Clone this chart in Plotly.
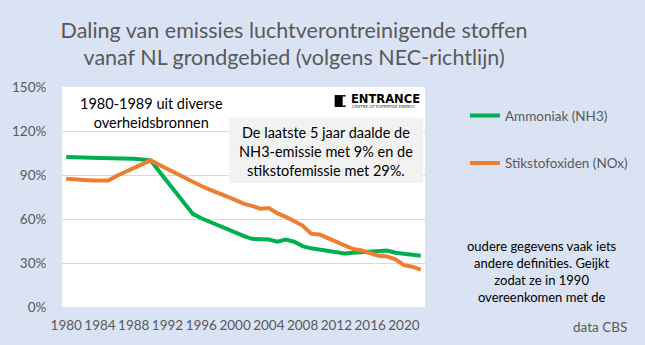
import plotly.graph_objects as go

years = list(range(1980, 2023))
nh3 = [102.3, 102.3, 102.2, 101.8, 101.6, 101.6, 101.5, 101.2, 101.0, 100.5,
       100.0, 92.5, 85.0, 78.0, 70.5, 63.5, 60.5, 58.0, 55.5, 53.5,
       51.0, 48.5, 46.5, 46.0, 46.0, 44.5, 46.0, 44.5, 41.5, 40.0,
       39.0, 38.0, 37.0, 36.5, 37.0, 37.5, 38.0, 38.5, 38.5, 37.0,
       36.5, 36.0, 35.0]
nox = [87.5, 87.0, 86.8, 86.3, 86.2, 86.3, 89.5, 92.3, 95.0, 97.5,
       100.0, 97.0, 94.0, 91.0, 88.0, 85.0, 82.5, 80.0, 78.0, 75.5,
       73.0, 70.5, 69.0, 67.0, 67.5, 64.0, 61.5, 58.5, 55.5, 50.0,
       49.5, 47.0, 44.5, 42.5, 39.5, 38.5, 37.0, 35.0, 34.5, 32.5,
       28.5, 27.5, 25.5]
series_names = ["Ammoniak (NH3)", "Stikstofoxiden (NOx)"]
x_ticks = list(range(1980, 2021, 4))
y_ticks = [0, 30, 60, 90, 120, 150]
y_tick_labels = ["0%", "30%", "60%", "90%", "120%", "150%"]

title_text = "Daling van emissies luchtverontreinigende stoffen<br>vanaf NL grondgebied (volgens NEC-richtlijn)"
note_left = "1980-1989 uit diverse<br>overheidsbronnen"
note_box = "De laatste 5 jaar daalde de<br>NH3-emissie met 9% en de<br>stikstofemissie met 29%."
note_right = "oudere gegevens vaak iets<br>andere definities. Geijkt<br>zodat ze in 1990<br>overeenkomen met de"
source = "data CBS"

FONT = "Lato"
GRAY = "#595959"
BG = "#DAE3F3"

fig = go.Figure()
fig.add_trace(go.Scatter(x=years, y=nh3, mode="lines", name=series_names[0],
                         line=dict(color="#00B050", width=4), legendgroup="a"))
fig.add_trace(go.Scatter(x=years, y=nox, mode="lines", name=series_names[1],
                         line=dict(color="#ED7D31", width=4), legendgroup="b"))

fig.update_layout(
    width=645, height=345,
    margin=dict(l=58, r=217, t=87, b=38),
    paper_bgcolor=BG, plot_bgcolor="white",
    font=dict(family=FONT, color=GRAY, size=13),
    title=dict(text=title_text, xref="container", yref="container",
               x=0.456, xanchor="center", y=1 - 37.5 / 345, yanchor="middle",
               font=dict(family=FONT, size=21.5, color=GRAY)),
    legend=dict(x=1.11, y=0.94, xanchor="left", yanchor="top",
                bgcolor="rgba(0,0,0,0)", tracegroupgap=27,
                font=dict(family=FONT, size=13.5, color=GRAY),
                itemwidth=30),
    xaxis=dict(range=[1979.5, 2022.5], tickvals=x_ticks, showgrid=False,
               zeroline=False, showline=False, tickfont=dict(size=13.5, color=GRAY),
               ticks="outside", ticklen=6, tickcolor="rgba(0,0,0,0)"),
    yaxis=dict(range=[0, 150], tickvals=y_ticks, ticktext=y_tick_labels,
               gridcolor="#D9D9D9", zeroline=False, showline=False,
               tickfont=dict(size=13.5, color=GRAY),
               ticks="outside", ticklen=12, tickcolor="rgba(0,0,0,0)"),
)

# grey note box
fig.add_shape(type="rect", xref="x", yref="y", x0=1999.26, x1=2022.27, y0=84.5, y1=129.0,
              fillcolor="#F2F2F2", line=dict(width=0), layer="above")

fig.add_annotation(text=note_left, xref="x", yref="y", x=1990.07, y=132.3,
                   showarrow=False, font=dict(family=FONT, size=14.5, color="black"),
                   align="center", yanchor="middle")
fig.add_annotation(text=note_box, xref="x", yref="y", x=2010.76, y=105.7,
                   showarrow=False, font=dict(family=FONT, size=14.5, color="black"),
                   align="center", yanchor="middle")
# logo
fig.add_shape(type="rect", xref="x", yref="y", x0=2011.8, x1=2012.75, y0=136.4, y1=144.5,
              fillcolor="black", line=dict(width=0))
fig.add_shape(type="rect", xref="x", yref="y", x0=2012.75, x1=2013.1, y0=136.4, y1=137.4,
              fillcolor="black", line=dict(width=0))
fig.add_shape(type="rect", xref="x", yref="y", x0=2012.75, x1=2013.1, y0=143.5, y1=144.5,
              fillcolor="black", line=dict(width=0))
fig.add_annotation(text="<b>ENTRANCE</b>", xref="x", yref="y", x=2013.5, y=141.6,
                   xanchor="left", yanchor="middle", showarrow=False,
                   font=dict(family="DejaVu Sans", size=11.5, color="black"))
fig.add_annotation(text="CENTRE OF EXPERTISE ENERGY", xref="x", yref="y", x=2013.6, y=136.9,
                   xanchor="left", yanchor="middle", showarrow=False,
                   font=dict(family="DejaVu Sans", size=4, color="#333333"))

fig.add_annotation(text=note_right, xref="paper", yref="paper", x=1.3216, y=0.161,
                   xanchor="center", yanchor="middle", showarrow=False, align="center",
                   font=dict(family=FONT, size=13, color="black"))
fig.add_annotation(text=source, xref="paper", yref="paper", x=1.481, y=-0.091,
                   xanchor="center", yanchor="middle", showarrow=False,
                   font=dict(family=FONT, size=13.5, color=GRAY))

fig.write_html("out.html")
